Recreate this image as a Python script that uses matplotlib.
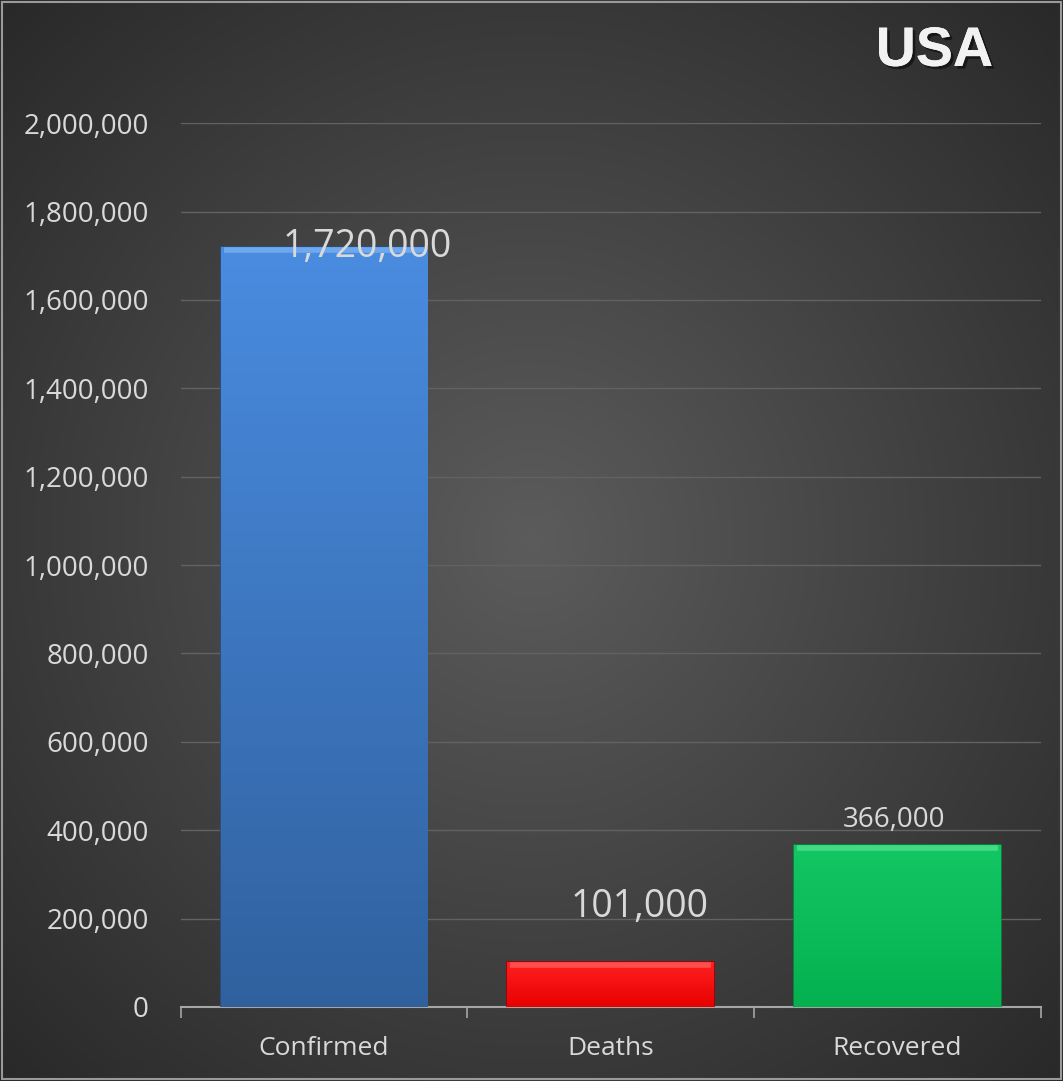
import matplotlib.pyplot as plt
import numpy as np
import matplotlib.patheffects as pe
import matplotlib.transforms as mtrans
from matplotlib.patches import Rectangle
from matplotlib.ticker import FuncFormatter

# data
categories = ['Confirmed', 'Deaths', 'Recovered']
values = [1720000, 101000, 366000]
labels = ['1,720,000', '101,000', '366,000']

# styling
top_colors = ['#4a8ce0', '#ff2020', '#12c763']
bot_colors = ['#30619f', '#e80000', '#05b04f']
edge_colors = ['#2a4f82', '#a00000', '#068a3e']
bevel_colors = ['#79b0f0', '#ff5a5a', '#4ee08e']
label_sizes = [27, 27, 20]
label_dx = [0.15, 0.10, -0.01]
label_dy = [0, 125000, 0]

plt.rcParams['font.family'] = ['Open Sans', 'DejaVu Sans']

fig = plt.figure(figsize=(10.63, 10.81), dpi=100)

# radial gradient background
bg = fig.add_axes([0, 0, 1, 1], zorder=-10)
yy, xx = np.mgrid[-1:1:400j, -1:1:400j]
r = np.sqrt(xx ** 2 + yy ** 2) / np.sqrt(2)
shade = 0.36 - 0.2 * r
img = np.dstack([shade, shade, shade])
bg.imshow(img, extent=[0, 1, 0, 1], aspect='auto', origin='lower')
bg.add_patch(Rectangle((0.002, 0.002), 0.996, 0.996, fill=False,
                       edgecolor='#9a9a9a', lw=1.5, transform=bg.transAxes))
bg.set_axis_off()

ax = fig.add_axes([0.170, 0.0685, 0.809, 0.8175])
ax.set_facecolor('none')

x = np.arange(len(categories))
bars = ax.bar(x, values, width=0.72, color=bot_colors, edgecolor=edge_colors,
              linewidth=1.2, zorder=3)

# vertical gradient in bars + light bevel just inside the top
shift_down = mtrans.ScaledTranslation(0, -3 / 100, fig.dpi_scale_trans)
for b, tc, bc, hc in zip(bars, top_colors, bot_colors, bevel_colors):
    c1 = np.array(plt.matplotlib.colors.to_rgb(tc))
    c2 = np.array(plt.matplotlib.colors.to_rgb(bc))
    t = np.linspace(0, 1, 256)[:, None]
    grad = (c2 * (1 - t) + c1 * t)[:, None, :]
    bx, by = b.get_x(), b.get_y()
    im = ax.imshow(grad, extent=[bx, bx + b.get_width(), by, by + b.get_height()],
                   aspect='auto', origin='lower', zorder=3.5)
    im.set_clip_path(b)
    ax.plot([bx + 0.01, bx + b.get_width() - 0.01], [by + b.get_height()] * 2,
            color=hc, lw=4, alpha=0.8, zorder=4, solid_capstyle='butt',
            transform=ax.transData + shift_down)

for i, (v, lab) in enumerate(zip(values, labels)):
    if i == 2:
        ax.annotate(lab, (x[i] + label_dx[i], v), xytext=(0, 8),
                    textcoords='offset points', ha='center', va='bottom',
                    fontsize=label_sizes[i], color='#d9d9d9', zorder=5)
    else:
        ax.text(x[i] + label_dx[i], v + label_dy[i], lab, ha='center',
                va='center', fontsize=label_sizes[i], color='#d9d9d9', zorder=5)

ax.set_xlim(-0.5, 2.5)
ax.set_ylim(0, 2000000)
ax.set_yticks(np.arange(0, 2000001, 200000))
ax.yaxis.set_major_formatter(FuncFormatter(lambda v, p: f'{int(v):,}'))
ax.grid(axis='y', color='#626262', lw=1, zorder=0)
ax.set_axisbelow(True)

ax.set_xticks(x)
ax.set_xticklabels(categories)
ax.set_xticks([-0.5, 0.5, 1.5, 2.5], minor=True)
ax.tick_params(axis='x', which='major', length=0, pad=21, labelsize=19,
               labelcolor='#d9d9d9')
ax.tick_params(axis='x', which='minor', length=8, color='#a6a6a6', width=1.2,
               direction='out')
ax.tick_params(axis='y', length=0, pad=23, labelsize=20, labelcolor='#d9d9d9')

for s in ['top', 'right', 'left']:
    ax.spines[s].set_visible(False)
ax.spines['bottom'].set_color('#a6a6a6')
ax.spines['bottom'].set_linewidth(1.5)

fig.text(0.879, 0.952, 'USA', ha='center', va='center', fontsize=40,
         fontweight='bold', family=['Liberation Sans', 'DejaVu Sans'],
         color='#f2f2f2',
         path_effects=[pe.withSimplePatchShadow(offset=(2, -2), shadow_rgbFace='black',
                                                alpha=0.5),
                       pe.Normal()])

fig.savefig('out.png', dpi=100)
